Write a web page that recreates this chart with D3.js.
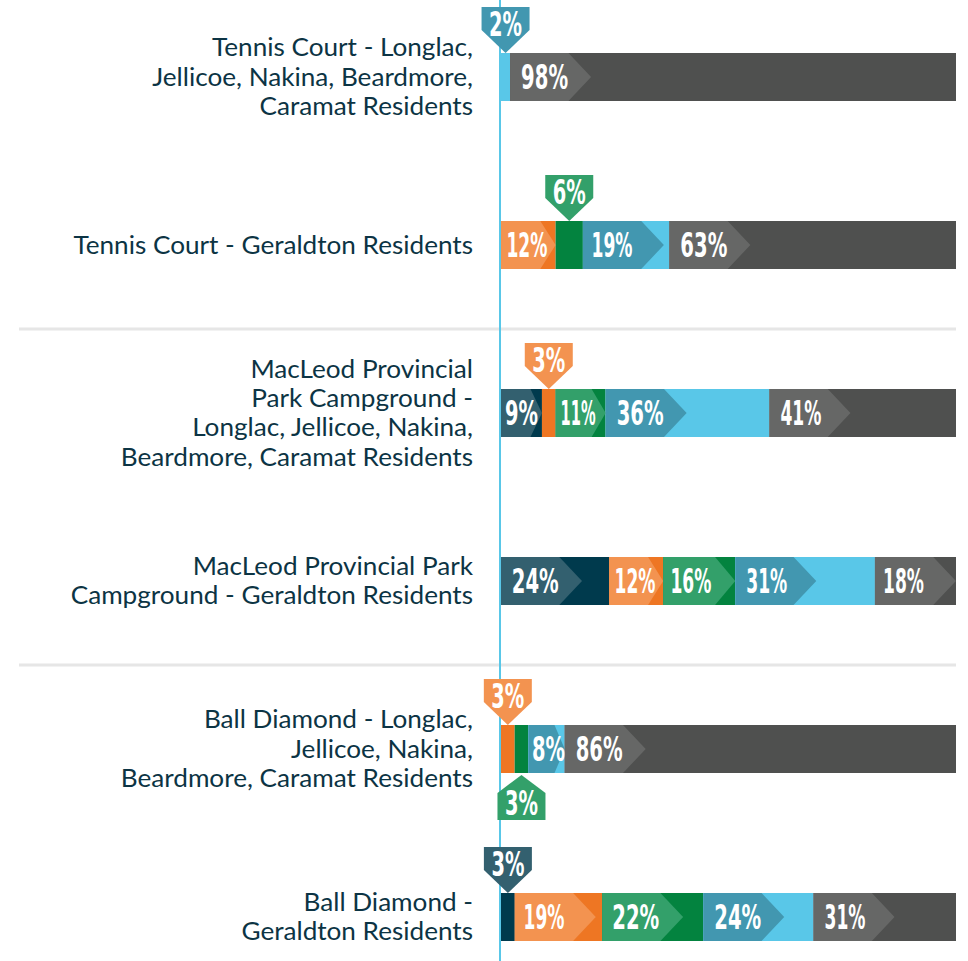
<!DOCTYPE html>
<html>
<head>
<meta charset="utf-8">
<script src="https://cdn.jsdelivr.net/npm/d3@7"></script>
<style>
  html, body { margin: 0; padding: 0; background: #ffffff; }
  svg { display: block; }
</style>
</head>
<body>
<svg id="chart" width="968" height="961"></svg>
<script>
// ---------------- DATA ----------------
const rowLabels = [
  ["Tennis Court - Longlac,", "Jellicoe, Nakina, Beardmore,", "Caramat Residents"],
  ["Tennis Court - Geraldton Residents"],
  ["MacLeod Provincial", "Park Campground -", "Longlac, Jellicoe, Nakina,", "Beardmore, Caramat Residents"],
  ["MacLeod Provincial Park", "Campground - Geraldton Residents"],
  ["Ball Diamond - Longlac,", "Jellicoe, Nakina,", "Beardmore, Caramat Residents"],
  ["Ball Diamond -", "Geraldton Residents"]
];
const seriesKeys = ["navy", "orange", "green", "blue", "gray"];
const navyValues   = [0,  0,  9, 24,  0,  3];
const orangeValues = [0, 12,  3, 12,  3, 19];
const greenValues  = [0,  6, 11, 16,  3, 22];
const blueValues   = [2, 19, 36, 31,  8, 24];
const grayValues   = [98, 63, 41, 18, 86, 31];

// colours: base (segment) and accent (arrow / callout)
const baseColors   = {navy: "#003a4d", orange: "#ee7623", green: "#03833f", blue: "#59c7e8", gray: "#4f504f"};
const accentColors = {navy: "#33606f", orange: "#f39350", green: "#33a06a", blue: "#4297b0", gray: "#666766"};

// -------------- BUILD TABLE --------------
const valuesByKey = {navy: navyValues, orange: orangeValues, green: greenValues, blue: blueValues, gray: grayValues};
const table = rowLabels.map((lab, i) => {
  const o = {id: i, label: lab};
  seriesKeys.forEach(k => o[k] = valuesByKey[k][i]);
  o.total = d3.sum(seriesKeys, k => o[k]);
  return o;
});

const svg = d3.select("#chart");
const W = 968, H = 961;
const barLeft = 501, barRight = 956, barH = 48;

const y = d3.scalePoint().domain(table.map(d => d.id)).range([77, 917]);

// stack normalised per row
const stack = d3.stack().keys(seriesKeys)
  .value((d, k) => d[k] / d.total * 100);
const stacked = stack(table);
const x = d3.scaleLinear().domain([0, 100]).range([barLeft, barRight]);

// separators between facility groups
const sepRows = [1, 3];
svg.append("g").selectAll("line").data(sepRows).join("line")
  .attr("x1", 19).attr("x2", barRight)
  .attr("y1", d => (y(d) + y(d + 1)) / 2)
  .attr("y2", d => (y(d) + y(d + 1)) / 2)
  .attr("stroke", "#e6e6e6").attr("stroke-width", 3);

// row labels
const labelG = svg.append("g");
const lineH = 29.3;
table.forEach(d => {
  const n = d.label.length;
  d.label.forEach((line, j) => {
    labelG.append("text")
      .attr("text-anchor", "end")
      .attr("font-family", "Lato, 'Noto Sans', sans-serif")
      .attr("font-size", 24.2)
      .attr("fill", "#0c3444")
      .attr("dy", "0.36em")
      .attr("transform", `translate(473,${y(d.id) + (j - (n - 1) / 2) * lineH}) scale(1.08,1)`)
      .text(line);
  });
});

// segments
const segs = [];
stacked.forEach(layer => {
  layer.forEach((s, i) => {
    const v = table[i][layer.key];
    if (v <= 0) return;
    segs.push({key: layer.key, row: i, value: v, x0: x(s[0]), x1: x(s[1])});
  });
});
segs.sort((a, b) => a.row - b.row || a.x0 - b.x0);

const barG = svg.append("g");
barG.selectAll("rect").data(segs).join("rect")
  .attr("x", d => d.x0)
  .attr("y", d => y(d.row) - barH / 2)
  .attr("width", d => d.x1 - d.x0)
  .attr("height", barH)
  .attr("fill", d => baseColors[d.key]);

const inside = segs.filter(d => d.value >= 7);
const arrowMax = 81;
barG.selectAll("path.arrow").data(inside).join("path")
  .attr("class", "arrow")
  .attr("fill", d => accentColors[d.key])
  .attr("d", d => {
    const w = Math.min(arrowMax, d.x1 - d.x0);
    const top = y(d.row) - barH / 2, bot = y(d.row) + barH / 2, mid = y(d.row);
    const p = d3.path();
    p.moveTo(d.x0, top);
    p.lineTo(d.x0 + 0.72 * w, top);
    p.lineTo(d.x0 + w, mid);
    p.lineTo(d.x0 + 0.72 * w, bot);
    p.lineTo(d.x0, bot);
    p.closePath();
    return p.toString();
  });

const valFont = "'DejaVu Sans', sans-serif";
// condensed display-face widths: narrow "1", other digits, percent sign
const valLen = v => String(v).split("").reduce((s, c) => s + (c === "1" ? 8 : 14), 0) + 19;
// draw a value label whose left edge is at px and vertical centre at py, squeezed to target width
function drawValue(g, v, px, py) {
  const t = g.append("text")
    .attr("font-family", valFont)
    .attr("font-weight", "bold")
    .attr("font-size", 33)
    .attr("dy", "0.36em")
    .attr("fill", "#ffffff")
    .text(v + "%");
  const natural = t.node().getComputedTextLength();
  const sx = valLen(v) / natural;
  t.attr("transform", `translate(${px},${py}) scale(${sx},1)`);
}
const valG = svg.append("g");
inside.forEach(d => {
  drawValue(valG, d.value, d.x0 + Math.min(11, (d.x1 - d.x0) * 0.1), y(d.row));
});

// vertical reference line
svg.append("line")
  .attr("x1", x(0) - 1).attr("x2", x(0) - 1)
  .attr("y1", 0).attr("y2", H)
  .attr("stroke", "#59c7e8").attr("stroke-width", 2);

// callouts for small segments
const small = segs.filter(d => d.value < 7);
// place callout below if the previous small segment in same row is already above
small.forEach((d, i) => {
  const prev = small[i - 1];
  d.below = !!(prev && prev.row === d.row && !prev.below);
});
const cw = 48, rectH = 23, triH = 23;
const callG = svg.append("g");
small.forEach(d => {
  const cx = (d.x0 + d.x1) / 2;
  const p = d3.path();
  let ty;
  if (!d.below) {
    const tip = y(d.row) - barH / 2;
    const rTop = tip - triH - rectH;
    p.moveTo(cx - cw / 2, rTop);
    p.lineTo(cx + cw / 2, rTop);
    p.lineTo(cx + cw / 2, rTop + rectH);
    p.lineTo(cx, tip);
    p.lineTo(cx - cw / 2, rTop + rectH);
    p.closePath();
    ty = tip - 29;
  } else {
    const tip = y(d.row) + barH / 2 + 2;
    const rBot = tip + 45;
    p.moveTo(cx, tip);
    p.lineTo(cx + cw / 2, tip + 18);
    p.lineTo(cx + cw / 2, rBot);
    p.lineTo(cx - cw / 2, rBot);
    p.lineTo(cx - cw / 2, tip + 18);
    p.closePath();
    ty = tip + 28;
  }
  callG.append("path").attr("d", p.toString()).attr("fill", accentColors[d.key]);
  drawValue(callG, d.value, cx - valLen(d.value) / 2, ty);
});
</script>
</body>
</html>
